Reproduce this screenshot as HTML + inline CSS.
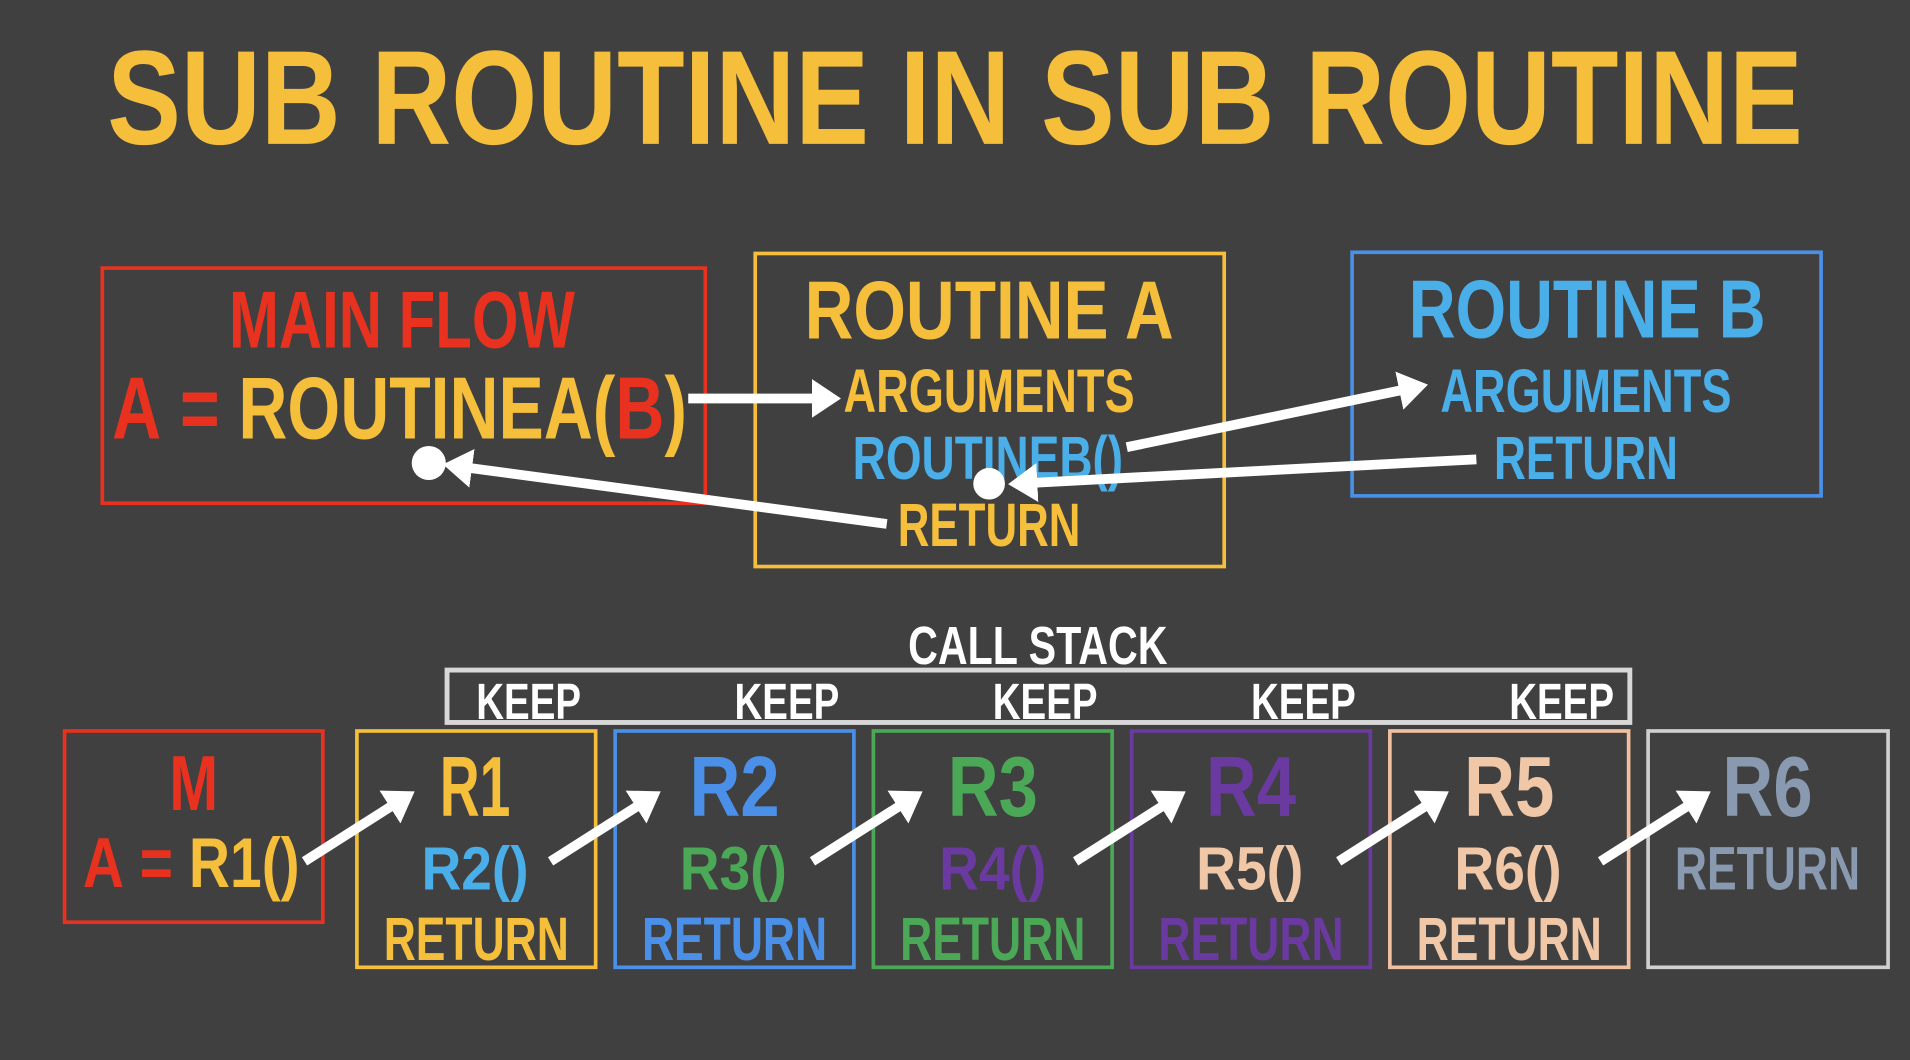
<!DOCTYPE html>
<html><head><meta charset="utf-8"><style>
html,body{margin:0;padding:0;background:#404040;}
svg{display:block}
text{font-family:"Liberation Sans Narrow","Liberation Sans",sans-serif;font-weight:bold;text-anchor:middle}
</style></head><body>
<svg width="1910" height="1060" viewBox="0 0 1568 870" xmlns="http://www.w3.org/2000/svg">
<defs>
<marker id="ah" markerWidth="4" markerHeight="4" refX="2.2" refY="2" orient="auto" markerUnits="strokeWidth"><path d="M0,0 L3,2 L0,4 z" fill="#fff"/></marker>
</defs>
<rect width="1568" height="870" fill="#404040"/>
<text x="784" y="118" font-size="110" fill="#f5bf3c" textLength="1392" lengthAdjust="spacingAndGlyphs">SUB ROUTINE IN SUB ROUTINE</text>

<rect x="84" y="220" width="495" height="193" fill="none" stroke="#e8321f" stroke-width="3"/>
<text x="330" y="285" font-size="66" fill="#e8321f" textLength="284" lengthAdjust="spacingAndGlyphs">MAIN FLOW</text>
<text x="328" y="360" font-size="72" fill="#f5bf3c" textLength="472" lengthAdjust="spacingAndGlyphs"><tspan fill="#e8321f">A</tspan> <tspan fill="#e8321f">=</tspan> ROUTINEA(<tspan fill="#e8321f">B</tspan>)</text>

<rect x="620" y="208" width="385" height="257" fill="none" stroke="#f5bf3c" stroke-width="3"/>
<text x="812" y="278" font-size="68" fill="#f5bf3c" textLength="303" lengthAdjust="spacingAndGlyphs">ROUTINE A</text>
<text x="812" y="338" font-size="50" fill="#f5bf3c" textLength="239" lengthAdjust="spacingAndGlyphs">ARGUMENTS</text>
<text x="811" y="393" font-size="50" fill="#4aaee8" textLength="222" lengthAdjust="spacingAndGlyphs">ROUTINEB()</text>
<text x="812" y="448" font-size="50" fill="#f5bf3c" textLength="150" lengthAdjust="spacingAndGlyphs">RETURN</text>

<rect x="1110" y="207" width="385" height="200" fill="none" stroke="#4a90e8" stroke-width="3"/>
<text x="1303" y="277" font-size="68" fill="#4aaee8" textLength="293" lengthAdjust="spacingAndGlyphs">ROUTINE B</text>
<text x="1302" y="338" font-size="50" fill="#4aaee8" textLength="239" lengthAdjust="spacingAndGlyphs">ARGUMENTS</text>
<text x="1302" y="393" font-size="50" fill="#4aaee8" textLength="151" lengthAdjust="spacingAndGlyphs">RETURN</text>

<g stroke="#fff" stroke-width="8" fill="none">
<line x1="565" y1="327" x2="684" y2="327" marker-end="url(#ah)"/>
<line x1="925" y1="367" x2="1166" y2="317" marker-end="url(#ah)"/>
<line x1="1212" y1="377" x2="834" y2="397" marker-end="url(#ah)"/>
<line x1="728" y1="430" x2="370" y2="382" marker-end="url(#ah)"/>
</g>
<circle cx="812" cy="397" r="13" fill="#fff"/>
<circle cx="352" cy="380" r="14" fill="#fff"/>

<text x="852" y="545" font-size="44" fill="#fff" textLength="213" lengthAdjust="spacingAndGlyphs">CALL STACK</text>
<rect x="367" y="550" width="971" height="43" fill="none" stroke="#d8d8d8" stroke-width="4"/>
<g font-size="42" fill="#fff">
<text x="434" y="590" textLength="86" lengthAdjust="spacingAndGlyphs">KEEP</text>
<text x="646" y="590" textLength="86" lengthAdjust="spacingAndGlyphs">KEEP</text>
<text x="858" y="590" textLength="86" lengthAdjust="spacingAndGlyphs">KEEP</text>
<text x="1070" y="590" textLength="86" lengthAdjust="spacingAndGlyphs">KEEP</text>
<text x="1282" y="590" textLength="86" lengthAdjust="spacingAndGlyphs">KEEP</text>
</g>

<rect x="53" y="600" width="212" height="157" fill="none" stroke="#e8321f" stroke-width="3"/>
<text x="159" y="665" font-size="64" fill="#e8321f" textLength="40" lengthAdjust="spacingAndGlyphs">M</text>
<text x="157" y="728" font-size="58" fill="#f5bf3c" textLength="178" lengthAdjust="spacingAndGlyphs"><tspan fill="#e8321f">A</tspan> <tspan fill="#e8321f">=</tspan> R1()</text>

<g stroke-width="3" fill="none">
<rect x="293" y="600" width="196" height="194" stroke="#f5bf3c"/>
<rect x="505" y="600" width="196" height="194" stroke="#4a90e8"/>
<rect x="717" y="600" width="196" height="194" stroke="#4aa857"/>
<rect x="929" y="600" width="196" height="194" stroke="#6a3aa0"/>
<rect x="1141" y="600" width="196" height="194" stroke="#f0c0a0"/>
<rect x="1353" y="600" width="197" height="194" stroke="#d0d0d0"/>
</g>
<g font-size="70">
<text x="390" y="670" fill="#f5bf3c" textLength="58" lengthAdjust="spacingAndGlyphs">R1</text>
<text x="603" y="670" fill="#4a90e8" textLength="74" lengthAdjust="spacingAndGlyphs">R2</text>
<text x="815" y="670" fill="#4aa857" textLength="74" lengthAdjust="spacingAndGlyphs">R3</text>
<text x="1027" y="670" fill="#6a3aa0" textLength="74" lengthAdjust="spacingAndGlyphs">R4</text>
<text x="1239" y="670" fill="#f0c8a8" textLength="74" lengthAdjust="spacingAndGlyphs">R5</text>
<text x="1451" y="670" fill="#8899b0" textLength="74" lengthAdjust="spacingAndGlyphs">R6</text>
</g>
<g font-size="50">
<text x="390" y="730" fill="#4aaee8" textLength="88" lengthAdjust="spacingAndGlyphs">R2()</text>
<text x="602" y="730" fill="#4aa857" textLength="88" lengthAdjust="spacingAndGlyphs">R3()</text>
<text x="815" y="730" fill="#6a3aa0" textLength="88" lengthAdjust="spacingAndGlyphs">R4()</text>
<text x="1026" y="730" fill="#f0c8a8" textLength="88" lengthAdjust="spacingAndGlyphs">R5()</text>
<text x="1238" y="730" fill="#f0c8a8" textLength="88" lengthAdjust="spacingAndGlyphs">R6()</text>
<text x="1451" y="730" fill="#8899b0" textLength="152" lengthAdjust="spacingAndGlyphs">RETURN</text>
<text x="391" y="788" fill="#f5bf3c" textLength="152" lengthAdjust="spacingAndGlyphs">RETURN</text>
<text x="603" y="788" fill="#4a90e8" textLength="152" lengthAdjust="spacingAndGlyphs">RETURN</text>
<text x="815" y="788" fill="#4aa857" textLength="152" lengthAdjust="spacingAndGlyphs">RETURN</text>
<text x="1027" y="788" fill="#6a3aa0" textLength="152" lengthAdjust="spacingAndGlyphs">RETURN</text>
<text x="1239" y="788" fill="#f0c8a8" textLength="152" lengthAdjust="spacingAndGlyphs">RETURN</text>
</g>
<g stroke="#fff" stroke-width="8" fill="none">
<line x1="250" y1="707" x2="335" y2="653" marker-end="url(#ah)"/>
<line x1="452" y1="707" x2="537" y2="653" marker-end="url(#ah)"/>
<line x1="667" y1="707" x2="752" y2="653" marker-end="url(#ah)"/>
<line x1="883" y1="707" x2="968" y2="653" marker-end="url(#ah)"/>
<line x1="1099" y1="707" x2="1184" y2="653" marker-end="url(#ah)"/>
<line x1="1314" y1="707" x2="1399" y2="653" marker-end="url(#ah)"/>
</g>
</svg>
</body></html>
